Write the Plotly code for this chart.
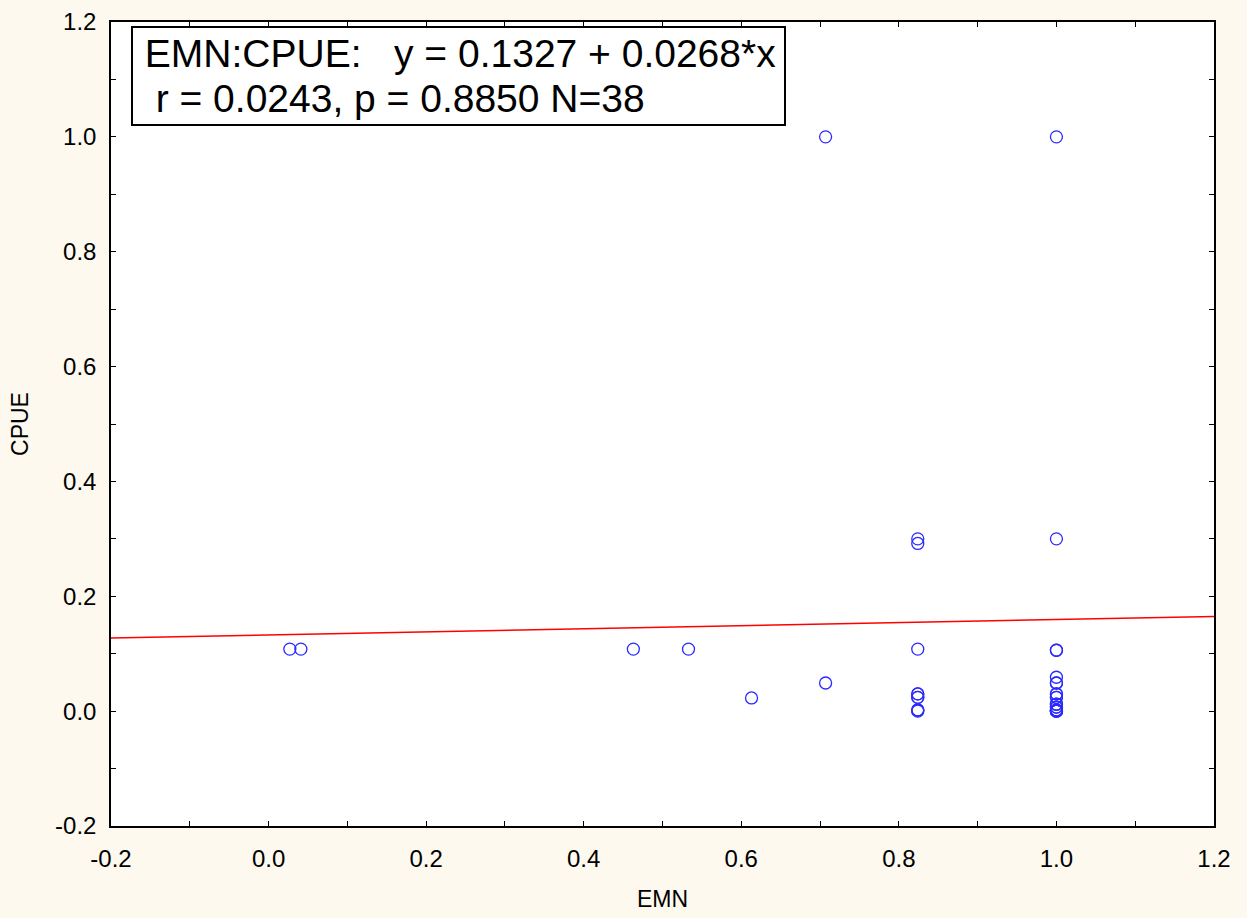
import plotly.graph_objects as go

# Data
emn = [0.027, 0.041, 0.463, 0.533, 0.613, 0.707, 0.707,
       0.824, 0.824, 0.824, 0.824, 0.824, 0.824,
       1.0, 1.0, 1.0, 1.0, 1.0, 1.0, 1.0, 1.0, 1.0, 1.0,
       1.0, 1.0, 1.0, 1.0, 1.0, 1.0, 1.0, 1.0,
       0.824, 0.824, 0.824, 0.824, 1.0, 1.0, 1.0]
cpue = [0.108, 0.108, 0.108, 0.108, 0.023, 1.0, 0.049,
        0.30, 0.292, 0.108, 0.030, 0.024, 0.002,
        1.0, 0.30, 0.106, 0.059, 0.049, 0.030, 0.024, 0.012, 0.007, 0.002,
        0.0, 0.0, 0.0, 0.002, 0.007, 0.012, 0.024, 0.030,
        0.002, 0.0, 0.024, 0.030, 0.0, 0.049, 0.106]

intercept = 0.1327
slope = 0.0268
x_range = [-0.2, 1.2]
y_range = [-0.2, 1.2]

tick_vals = [-0.2, 0.0, 0.2, 0.4, 0.6, 0.8, 1.0, 1.2]
tick_text = ["-0.2", "0.0", "0.2", "0.4", "0.6", "0.8", "1.0", "1.2"]

fit_x = x_range
fit_y = [intercept + slope * v for v in fit_x]

fig = go.Figure()
fig.add_trace(go.Scatter(
    x=fit_x, y=fit_y, mode="lines",
    line=dict(color="#ff0000", width=1.5),
    hoverinfo="skip", showlegend=False))
fig.add_trace(go.Scatter(
    x=emn, y=cpue, mode="markers",
    marker=dict(symbol="circle-open", size=12, color="#2a2aff",
                line=dict(width=1.3, color="#2a2aff")),
    showlegend=False))

axis_common = dict(
    tickvals=tick_vals, ticktext=tick_text,
    ticks="inside", ticklen=5, tickwidth=1, tickcolor="black",
    minor=dict(dtick=0.1, tick0=0, ticks="inside", ticklen=5, tickwidth=1, tickcolor="black"),
    showline=True, linecolor="black", linewidth=1.5,
    mirror="allticks", showgrid=False, zeroline=False, automargin=False,
    tickfont=dict(family="Liberation Sans, Arial", size=24, color="black"),
    title_font=dict(family="Liberation Sans, Arial", size=23, color="black"),
)

fig.update_xaxes(range=x_range, title_text="EMN", title_standoff=20,
                 ticklabelstandoff=10, **axis_common)
fig.update_yaxes(range=y_range, title_text="CPUE", title_standoff=20,
                 ticklabelstandoff=8, **axis_common)

sp = "\u00a0"
line1 = f"{sp}EMN:CPUE:{sp*3}y = 0.1327 + 0.0268*x"
line2 = f"{sp*2}r = 0.0243, p = 0.8850 N=38"
big = "<span style='font-size:39px'>{}</span>"
fig.add_annotation(
    xref="paper", yref="paper", x=0.0181, y=0.9954,
    xanchor="left", yanchor="top", align="left", valign="middle",
    showarrow=False,
    text=big.format(line1) + "<br>" + big.format(line2),
    font=dict(family="Liberation Sans, Arial", size=35, color="black"),
    width=649, height=94,
    bgcolor="white", bordercolor="black", borderwidth=2, borderpad=1,
)

fig.update_layout(
    width=1247, height=918,
    margin=dict(l=111, r=33, t=22, b=92),
    paper_bgcolor="#fdf9ef", plot_bgcolor="white",
    showlegend=False,
)

fig.write_html(
    "out.html",
    config={"displayModeBar": False},
    post_script="document.body.style.margin='0px';document.body.style.overflow='hidden';document.body.style.background='#fdf9ef';",
)
